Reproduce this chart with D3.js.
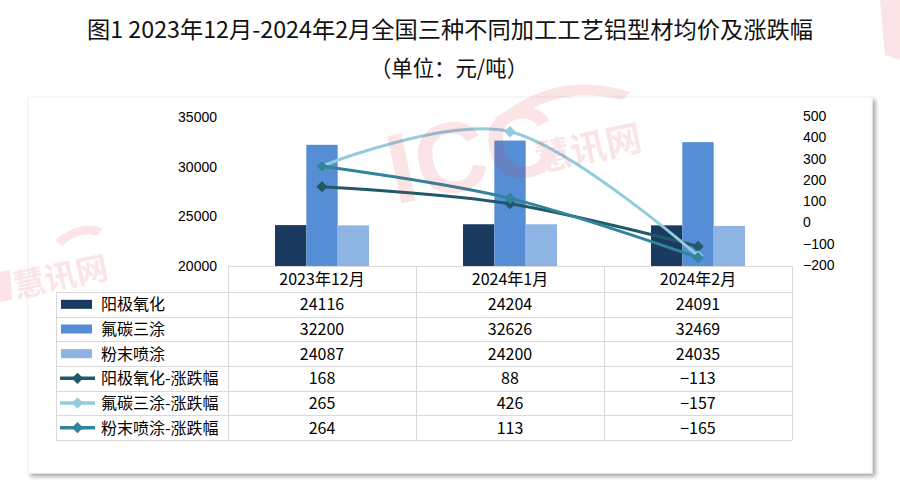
<!DOCTYPE html>
<html><head><meta charset="utf-8">
<script src="https://cdn.jsdelivr.net/npm/d3@7"></script>
<style>body{margin:0;background:#fff}svg{display:block}</style>
</head><body>
<svg id="c" width="900" height="496"></svg>
<script>
const categories = ["2023年12月", "2024年1月", "2024年2月"];
const barNames = ["阳极氧化", "氟碳三涂", "粉末喷涂"];
const anodizing = [24116, 24204, 24091];
const fluorocarbon = [32200, 32626, 32469];
const powder = [24087, 24200, 24035];
const lineNames = ["阳极氧化-涨跌幅", "氟碳三涂-涨跌幅", "粉末喷涂-涨跌幅"];
const anodizingChg = [168, 88, -113];
const fluorocarbonChg = [265, 426, -157];
const powderChg = [264, 113, -165];
const leftTicks = [20000, 25000, 30000, 35000];
const rightTicks = [-200, -100, 0, 100, 200, 300, 400, 500];

const barColors = ["#1b3a60", "#558ed5", "#8eb4e3"];
const lineColors = ["#215968", "#93cddd", "#31849b"];
const barData = [anodizing, fluorocarbon, powder];
const lineData = [anodizingChg, fluorocarbonChg, powderChg];

const svg = d3.select("#c");
const CJK = "'Noto Sans CJK SC','Noto Sans',sans-serif";
const LAT = "'Liberation Sans',Arial,sans-serif";

// shadow filter
const defs = svg.append("defs");
const f = defs.append("filter").attr("id", "sh").attr("x", "-5%").attr("y", "-5%").attr("width", "110%").attr("height", "115%");
f.append("feDropShadow").attr("dx", 3).attr("dy", 3).attr("stdDeviation", 2).attr("flood-color", "#000").attr("flood-opacity", 0.35);

svg.append("rect").attr("width", 900).attr("height", 496).attr("fill", "#fff");

// title
svg.append("text").attr("x", 87).attr("y", 38)
  .style("font-family", CJK).style("font-size", "23px").attr("fill", "#111")
  .attr("textLength", 726).attr("lengthAdjust", "spacingAndGlyphs")
  .text("图1 2023年12月-2024年2月全国三种不同加工工艺铝型材均价及涨跌幅");
svg.append("text").attr("x", 370).attr("y", 76)
  .style("font-family", CJK).style("font-size", "22px").attr("fill", "#111")
  .attr("textLength", 158).attr("lengthAdjust", "spacingAndGlyphs")
  .text("（单位：元/吨）");

// panel
svg.append("rect").attr("x", 28).attr("y", 97).attr("width", 844).attr("height", 376)
  .attr("fill", "#fff").attr("stroke", "#f2f2f2").attr("filter", "url(#sh)");

// scales
const x = d3.scaleBand().domain(categories).range([228, 792]).padding(0);
const xi = d3.scaleBand().domain(barNames).range([x.bandwidth() * 0.25, x.bandwidth() * 0.75]).padding(0);
const yL = d3.scaleLinear().domain([20000, 35000]).range([266, 117]);
const yR = d3.scaleLinear().domain([-200, 500]).range([265, 116]);

// axes
const axL = svg.append("g").attr("transform", "translate(228,0)")
  .call(d3.axisLeft(yL).tickValues(leftTicks).tickSize(0).tickPadding(11).tickFormat(d3.format("d")));
axL.select(".domain").remove();
axL.selectAll("text").style("font-family", LAT).style("font-size", "14px").attr("fill", "#000");
const axR = svg.append("g").attr("transform", "translate(792,0)")
  .call(d3.axisRight(yR).tickValues(rightTicks).tickSize(0).tickPadding(11).tickFormat(d3.format("d")));
axR.select(".domain").remove();
axR.selectAll("text").style("font-family", LAT).style("font-size", "14px").attr("fill", "#000");

// bars
barNames.forEach((n, si) => {
  svg.append("g").selectAll("rect").data(categories).join("rect")
    .attr("x", (c) => x(c) + xi(n))
    .attr("width", xi.bandwidth())
    .attr("y", (c, i) => yL(barData[si][i]))
    .attr("height", (c, i) => yL(20000) - yL(barData[si][i]))
    .attr("fill", barColors[si]);
});

// lines
const diamond = (g, cx, cy, col, s) => {
  g.append("rect").attr("x", -s / 2).attr("y", -s / 2).attr("width", s).attr("height", s)
    .attr("fill", col).attr("transform", `translate(${cx},${cy}) rotate(45)`);
};
const line = d3.line().curve(d3.curveCatmullRom.alpha(0))
  .x((d, i) => x(categories[i]) + x.bandwidth() / 2).y((d) => yR(d));
lineNames.forEach((n, si) => {
  const g = svg.append("g");
  g.append("path").attr("d", line(lineData[si])).attr("fill", "none")
    .attr("stroke", lineColors[si]).attr("stroke-width", 3).attr("stroke-linecap", "round");
  lineData[si].forEach((v, i) => diamond(g, x(categories[i]) + x.bandwidth() / 2, yR(v), lineColors[si], 8));
});

// table
const tb = svg.append("g");
const gridC = "#d9d9d9";
const rowTop = 292, rowH = (440 - 292) / 6;
tb.append("line").attr("x1", 228).attr("x2", 792).attr("y1", 266.5).attr("y2", 266.5).attr("stroke", gridC);
for (let r = 0; r <= 6; r++) {
  const yy = Math.round(rowTop + r * rowH) + 0.5;
  tb.append("line").attr("x1", 56).attr("x2", 792).attr("y1", yy).attr("y2", yy).attr("stroke", gridC);
}
tb.append("line").attr("x1", 56.5).attr("x2", 56.5).attr("y1", 292).attr("y2", 440).attr("stroke", gridC);
[0, 1, 2, 3].forEach((k) => {
  const xx = 228 + k * x.bandwidth() + 0.5;
  tb.append("line").attr("x1", xx).attr("x2", xx).attr("y1", 266).attr("y2", 440).attr("stroke", gridC);
});
categories.forEach((c) => {
  tb.append("text").attr("x", x(c) + x.bandwidth() / 2).attr("y", 285).attr("text-anchor", "middle")
    .style("font-family", CJK).style("font-size", "16px").attr("fill", "#000").text(c);
});
const allNames = barNames.concat(lineNames);
const allData = barData.concat(lineData);
const fmt = d3.format("d");
allNames.forEach((n, r) => {
  const cy = rowTop + r * rowH + rowH / 2;
  if (r < 3) {
    tb.append("rect").attr("x", 61).attr("y", cy - 4.5).attr("width", 31).attr("height", 9).attr("fill", barColors[r]);
  } else {
    tb.append("line").attr("x1", 60).attr("x2", 95).attr("y1", cy).attr("y2", cy)
      .attr("stroke", lineColors[r - 3]).attr("stroke-width", 3.5);
    diamond(tb, 77.5, cy, lineColors[r - 3], 8);
  }
  tb.append("text").attr("x", 101).attr("y", cy + 6).style("font-family", CJK).style("font-size", "16px")
    .attr("fill", "#000").text(n);
  categories.forEach((c, i) => {
    tb.append("text").attr("x", x(c) + x.bandwidth() / 2).attr("y", cy + 6).attr("text-anchor", "middle")
      .style("font-family", CJK).style("font-size", "16px").attr("fill", "#000").text(fmt(allData[r][i]));
  });
});

// watermark
const wm = svg.append("g").attr("fill", "#d9343f").attr("opacity", 0.13).style("font-family", LAT).style("font-weight", "bold");
wm.append("text").attr("x", 395).attr("y", 205).attr("transform", "rotate(-12,395,205)")
  .style("font-size", "100px").text("ICC");
wm.append("text").attr("x", 538).attr("y", 172).attr("transform", "rotate(-12,538,172)")
  .style("font-family", CJK).style("font-size", "36px").text("慧讯网");
wm.append("path").attr("d", "M505,112 Q560,70 630,92 L622,100 Q565,85 515,118 Z");
wm.append("text").attr("x", 16).attr("y", 298).attr("transform", "rotate(-12,16,298)")
  .style("font-family", CJK).style("font-size", "32px").text("慧讯网");
wm.append("path").attr("d", "M55,240 Q80,220 102,228 L98,236 Q80,230 62,246 Z");
wm.append("path").attr("d", "M0,272 L10,270 L12,300 L0,302 Z");
wm.append("path").attr("d", "M880,0 L900,0 L900,60 L885,55 Z");
</script>
</body></html>
